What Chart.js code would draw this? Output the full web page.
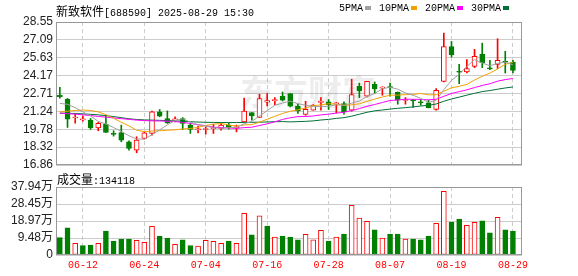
<!DOCTYPE html>
<html>
<head>
<meta charset="utf-8">
<script src="https://cdn.jsdelivr.net/npm/chart.js@4.4.1/dist/chart.umd.min.js"></script>
<style>
    body { margin: 0; background: #fff; width: 578px; height: 276px; overflow: hidden; position: relative; }
    canvas { position: absolute; left: 0; }
    #priceChart { top: 0; }
    #volChart { top: 168px; }
    .txt { position: absolute; white-space: pre; color: #000; font: 10px "Liberation Mono", monospace; line-height: 14px; }
    .cjk { font: 12px "Noto Sans CJK SC", sans-serif; }
    .swatch { display: inline-block; width: 6px; height: 4px; margin: 0 8px 1px 2px; vertical-align: middle; }
</style>
</head>
<body>
<canvas id="priceChart" width="578" height="178"></canvas>
<canvas id="volChart" width="578" height="108"></canvas>
<div class="txt" id="title" style="left:56px; top:2px;"></div>
<div class="txt" id="legend" style="left:339px; top:2px;"></div>
<div class="txt" id="volLabel" style="left:57px; top:170px;"></div>

<script>
// Stock info
const stockName = '新致软件';
const stockCode = '688590';
const stamp = '2025-08-29 15:30';

// Trading days
const dates = ['06-09', '06-10', '06-11', '06-12', '06-13', '06-16', '06-17', '06-18', '06-19', '06-20',
    '06-23', '06-24', '06-25', '06-26', '06-27', '06-30', '07-01', '07-02', '07-03', '07-04',
    '07-07', '07-08', '07-09', '07-10', '07-11', '07-14', '07-15', '07-16', '07-17', '07-18',
    '07-21', '07-22', '07-23', '07-24', '07-25', '07-28', '07-29', '07-30', '07-31', '08-01',
    '08-04', '08-05', '08-06', '08-07', '08-08', '08-11', '08-12', '08-13', '08-14', '08-15',
    '08-18', '08-19', '08-20', '08-21', '08-22', '08-25', '08-26', '08-27', '08-28', '08-29'];
const tickDates = ['06-12', '06-24', '07-04', '07-16', '07-28', '08-07', '08-19', '08-29'];

// OHLC
const opens = [22.55, 22.23, 20.70, 20.55, 20.53, 19.90, 20.20, 19.42, 19.52, 18.76,
    18.08, 19.03, 19.44, 21.20, 20.66, 20.55, 20.66, 20.12, 19.74, 19.76,
    19.84, 19.85, 20.12, 19.91, 20.39, 21.15, 20.74, 21.99, 22.12, 22.48,
    22.70, 21.67, 20.99, 21.34, 21.98, 22.02, 21.86, 21.88, 21.34, 23.30,
    22.48, 23.46, 23.15, 23.22, 22.83, 22.13, 22.14, 22.00, 21.94, 21.40,
    23.70, 26.55, 24.50, 24.46, 24.92, 25.90, 24.78, 25.09, 25.30, 25.28];
const highs = [23.20, 22.30, 21.00, 20.85, 20.66, 20.34, 20.93, 19.66, 20.12, 18.84,
    19.17, 19.57, 21.26, 21.40, 21.28, 20.80, 20.74, 20.26, 20.04, 19.98,
    20.20, 20.31, 20.26, 20.12, 22.34, 21.15, 22.64, 22.70, 22.37, 22.83,
    22.70, 21.83, 22.07, 21.80, 22.37, 22.21, 21.97, 22.02, 23.87, 23.56,
    23.70, 23.65, 23.26, 23.56, 22.83, 22.37, 22.21, 22.21, 22.15, 23.11,
    27.64, 26.96, 25.09, 25.47, 26.31, 26.82, 25.41, 27.18, 26.15, 25.41];
const lows = [22.32, 19.93, 20.28, 20.44, 19.77, 19.66, 19.52, 19.22, 18.76, 18.08,
    17.86, 18.98, 19.30, 20.80, 20.26, 20.39, 19.77, 19.44, 19.49, 19.39,
    19.44, 19.71, 19.79, 19.57, 20.39, 20.53, 20.74, 21.69, 21.80, 22.10,
    21.61, 21.07, 20.93, 21.34, 21.34, 21.40, 21.12, 21.02, 21.26, 22.37,
    22.42, 22.70, 22.56, 22.48, 21.83, 21.83, 21.56, 21.75, 21.53, 21.34,
    23.65, 25.68, 23.51, 24.38, 24.82, 24.82, 24.66, 24.74, 24.38, 24.38];
const closes = [22.45, 20.60, 20.78, 20.60, 19.90, 20.26, 19.52, 19.36, 18.90, 18.22,
    18.90, 19.49, 21.20, 20.85, 20.30, 20.60, 20.26, 19.77, 19.78, 19.80,
    19.88, 20.12, 19.93, 19.95, 21.26, 20.88, 22.29, 22.12, 22.17, 22.15,
    21.67, 21.28, 21.42, 21.75, 22.05, 21.80, 21.90, 21.20, 22.62, 22.91,
    23.70, 23.08, 23.20, 23.18, 22.15, 22.17, 22.10, 21.95, 21.53, 22.97,
    26.55, 25.88, 24.44, 24.74, 25.74, 25.22, 24.72, 25.41, 25.26, 24.60];

// Volume (万)
const volumes = [9.66, 15.2, 6.5, 5.2, 5.6, 6.5, 13.4, 7.8, 8.9, 8.9,
    8.2, 7.1, 16.0, 10.6, 9.5, 6.0, 8.4, 5.2, 5.0, 8.2,
    7.6, 6.5, 7.8, 6.5, 23.3, 11.2, 21.8, 16.2, 10.0, 10.6,
    10.0, 8.4, 11.5, 8.4, 13.8, 7.8, 10.0, 11.7, 27.7, 20.6,
    18.8, 14.0, 9.5, 11.7, 11.7, 8.9, 8.9, 8.4, 10.6, 17.7,
    35.5, 18.4, 20.1, 16.6, 18.2, 19.0, 12.3, 21.0, 14.0, 13.4118];

// Axis ticks
const priceTicks = [16.86, 18.32, 19.78, 21.24, 22.71, 24.17, 25.63, 27.09, 28.55];
const volTicks = [0, 9.48, 18.97, 28.45, 37.94];

// MA values before the window fills
const ma5Head = [21.90, 21.82, 21.55, 21.20];
const ma10Head = [21.20, 21.26, 21.32, 21.35, 21.32, 21.20, 20.98, 20.68, 20.35];
const ma20Head = [21.10, 21.06, 21.02, 20.96, 20.90, 20.83, 20.77, 20.71, 20.65, 20.59,
    20.53, 20.49, 20.47, 20.46, 20.44, 20.41, 20.34, 20.26, 20.16];
const ma30Head = [21.10, 21.09, 21.07, 21.04, 21.00, 20.96, 20.90, 20.82, 20.73, 20.64,
    20.58, 20.55, 20.53, 20.51, 20.49, 20.47, 20.44, 20.40, 20.37, 20.35,
    20.34, 20.33, 20.33, 20.33, 20.34, 20.35, 20.36, 20.38, 20.40];

const RED = '#ff0000';
const GREEN = '#008000';

function movingAvg(n, head) {
    return closes.map((c, i) => {
        if (i < head.length) return head[i];
        return closes.slice(i - n + 1, i + 1).reduce((a, b) => a + b, 0) / n;
    });
}

const maDefs = [
    { label: '5PMA', data: movingAvg(5, ma5Head), color: '#a0a0a0' },
    { label: '10PMA', data: movingAvg(10, ma10Head), color: '#f2a100' },
    { label: '20PMA', data: movingAvg(20, ma20Head), color: '#ff00ff' },
    { label: '30PMA', data: movingAvg(30, ma30Head), color: '#006f36' }
];

const idx = dates.map((d, i) => i);
const tickIdx = tickDates.map(d => dates.indexOf(d));
const candleUp = i => closes[i] >= opens[i];
const volUp = i => i === 0 ? candleUp(0) : closes[i] >= closes[i - 1];

// Texts
document.getElementById('title').innerHTML = `<span class="cjk">${stockName}</span>[${stockCode}] ${stamp}`;
document.getElementById('legend').innerHTML = maDefs.map(m =>
    `${m.label}<span class="swatch" style="background:${m.color}"></span>`).join('');
document.getElementById('volLabel').innerHTML =
    `<span class="cjk">成交量</span>:${Math.round(volumes[volumes.length - 1] * 10000)}`;

// Frame round the plot area
const framePlugin = {
    id: 'frame',
    afterDraw(chart) {
        const { ctx, chartArea: a } = chart;
        ctx.save();
        ctx.strokeStyle = '#999';
        ctx.lineWidth = 1;
        const l = Math.round(a.left) + 0.5, t = Math.round(a.top) + 0.5;
        const r = Math.round(a.right) - 0.5, b = Math.round(a.bottom) - 0.5;
        ctx.strokeRect(l, t, r - l, b - t);
        ctx.restore();
    }
};

// Faint watermark
const watermarkPlugin = {
    id: 'watermark',
    beforeDatasetsDraw(chart) {
        const ctx = chart.ctx;
        ctx.save();
        ctx.font = 'bold 34px "Noto Sans CJK SC"';
        ctx.fillStyle = 'rgba(0,0,0,0.07)';
        ctx.textBaseline = 'middle';
        ctx.fillText('东方财富', 240, 92);
        ctx.restore();
    }
};

const xScale = (showLabels) => ({
    type: 'linear',
    min: -0.5,
    max: 60.18,
    offset: false,
    afterBuildTicks: s => { s.ticks = tickIdx.map(v => ({ value: v })); },
    ticks: {
        display: showLabels,
        autoSkip: false,
        maxRotation: 0,
        padding: 4,
        color: RED,
        font: { family: 'Liberation Mono', size: 10 },
        callback: v => dates[v]
    },
    grid: { color: '#ccc', drawTicks: false, offset: false },
    border: { display: false, dash: [4, 3] },
    afterFit: s => { s.height = showLabels ? 21 : 0; }
});

const yFont = { family: '"Liberation Sans", "Noto Sans CJK SC"', size: 12 };

// Price chart
new Chart(document.getElementById('priceChart'), {
    type: 'bar',
    data: {
        datasets: [
            ...maDefs.map(m => ({
                type: 'line',
                label: m.label,
                data: idx.map(i => ({ x: i, y: m.data[i] })),
                borderColor: m.color,
                borderWidth: 1,
                pointRadius: 0,
                tension: 0
            })),
            {
                label: 'body',
                data: idx.map(i => ({ x: i, y: [opens[i], closes[i]] })),
                backgroundColor: idx.map(i => candleUp(i) ? '#fff' : GREEN),
                borderColor: idx.map(i => candleUp(i) ? RED : GREEN),
                borderWidth: 1,
                borderSkipped: false,
                barThickness: 5,
                minBarLength: 1,
                grouped: false
            },
            {
                label: 'wick',
                data: idx.map(i => ({ x: i, y: [lows[i], highs[i]] })),
                backgroundColor: idx.map(i => candleUp(i) ? RED : GREEN),
                borderWidth: 0,
                barThickness: 1,
                grouped: false
            }
        ]
    },
    options: {
        responsive: false,
        animation: false,
        devicePixelRatio: 1,
        events: [],
        layout: { padding: { left: 0, right: 56, top: 22, bottom: 13 } },
        plugins: { legend: { display: false }, tooltip: { enabled: false } },
        scales: {
            x: xScale(false),
            y: {
                min: 16.86,
                max: 28.55,
                afterBuildTicks: s => { s.ticks = priceTicks.map(v => ({ value: v })); },
                ticks: { autoSkip: false, padding: 3, color: '#222', font: yFont, callback: v => v.toFixed(2) },
                grid: { color: '#ccc', drawTicks: false },
                border: { display: false },
                afterFit: s => { s.width = 56; }
            }
        }
    },
    plugins: [watermarkPlugin, framePlugin]
});

// Volume chart
new Chart(document.getElementById('volChart'), {
    type: 'bar',
    data: {
        datasets: [{
            label: 'vol',
            data: idx.map(i => ({ x: i, y: volumes[i] })),
            backgroundColor: idx.map(i => volUp(i) ? '#fff' : GREEN),
            borderColor: idx.map(i => volUp(i) ? RED : GREEN),
            borderWidth: 1,
            borderSkipped: false,
            barThickness: 5
        }]
    },
    options: {
        responsive: false,
        animation: false,
        devicePixelRatio: 1,
        events: [],
        layout: { padding: { left: 0, right: 56, top: 19, bottom: 0 } },
        plugins: { legend: { display: false }, tooltip: { enabled: false } },
        scales: {
            x: xScale(true),
            y: {
                min: 0,
                max: 37.94,
                afterBuildTicks: s => { s.ticks = volTicks.map(v => ({ value: v })); },
                ticks: { autoSkip: false, padding: 3, color: '#222', font: yFont, callback: v => v === 0 ? '0' : v.toFixed(2) + '万' },
                grid: { color: '#ccc', drawTicks: false },
                border: { display: false },
                afterFit: s => { s.width = 56; }
            }
        }
    },
    plugins: [framePlugin]
});
</script>
</body>
</html>
